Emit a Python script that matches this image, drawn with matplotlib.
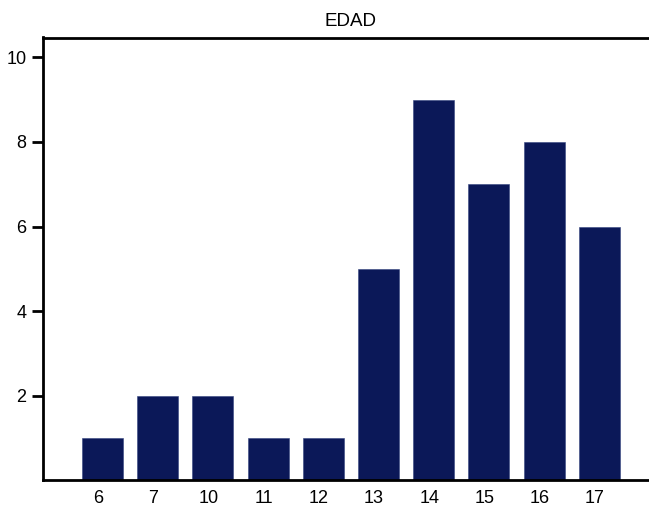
import numpy as np
import matplotlib.pyplot as plt
import matplotlib.transforms as mtransforms

# EDAD frequencies
categories = ["6", "7", "10", "11", "12", "13", "14", "15", "16", "17"]
counts = [1, 2, 2, 1, 1, 5, 9, 7, 8, 6]
yticks = [2, 4, 6, 8, 10]

plt.rcParams["font.family"] = ["Liberation Sans", "DejaVu Sans"]

W, H = 649, 508
fig = plt.figure(figsize=(W / 100, H / 100), dpi=100)

# axes runs off the right edge of the figure, like the original
left_px, bottom_px, top_px = 43, 480.3, 37.5
px_per_cat = 55.2
x0, x1 = -1.078, 10.6
ax = fig.add_axes([left_px / W, (H - bottom_px) / H,
                   (x1 - x0) * px_per_cat / W, (bottom_px - top_px) / H])

x = np.arange(len(categories))
ax.bar(x, counts, width=0.74, color="#0b1858", edgecolor="#34447f", linewidth=0.4)

ax.set_xlim(x0, x1)
ax.set_ylim(0, 10.47)
ax.set_xticks(x)
ax.set_xticklabels(categories, fontsize=13)
ax.set_yticks(yticks)
ax.set_yticklabels([str(t) for t in yticks], fontsize=13)

ax.tick_params(axis="x", length=0, pad=7)
ax.tick_params(axis="y", length=8, width=2, pad=4)

# category labels sit a little left of the bar centres in the original
shift = mtransforms.ScaledTranslation(-4.5 / 100, 0, fig.dpi_scale_trans)
for lab in ax.get_xticklabels():
    lab.set_transform(lab.get_transform() + shift)

for side in ["left", "top", "bottom"]:
    ax.spines[side].set_linewidth(2)
ax.spines["right"].set_visible(False)

fig.text(351 / W, 1 - 21 / H, "EDAD", ha="center", va="center", fontsize=13.5)

fig.savefig("out.png", dpi=100)
